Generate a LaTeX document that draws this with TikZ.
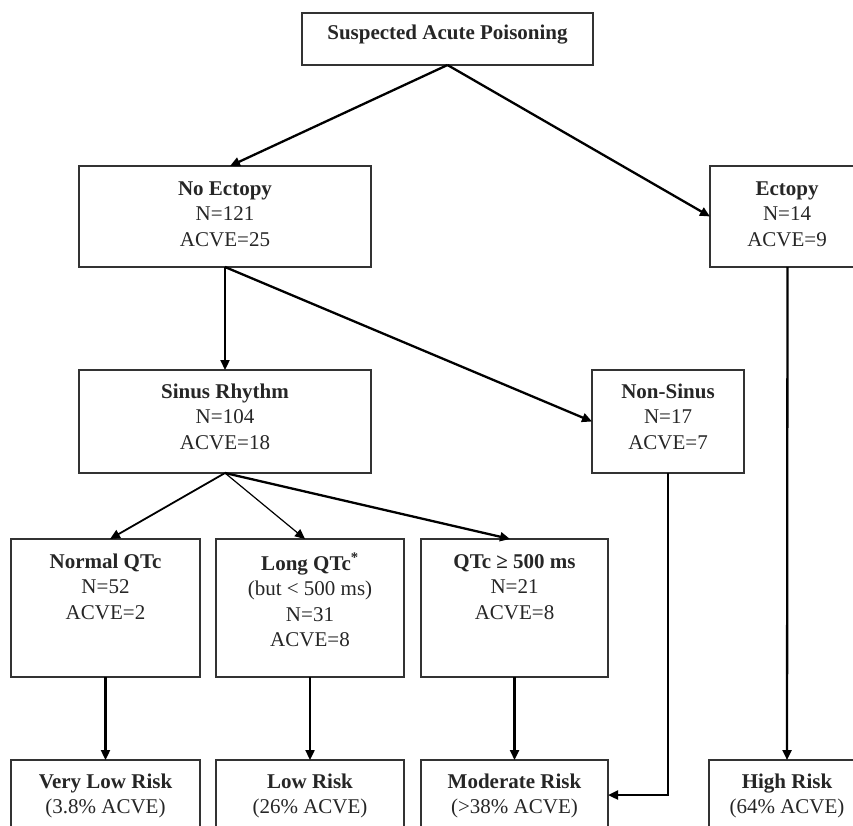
\documentclass[tikz,border=0pt]{standalone}
\usepackage{fontspec}
\setmainfont{Liberation Serif}
\usetikzlibrary{arrows.meta}
\tikzset{
  box/.style={draw=black!80, line width=1.4pt, fill=none, inner sep=0pt, outer sep=0pt},
  txt/.style={anchor=north, inner sep=0pt, align=center, text=black!85,
              font=\fontsize{21}{25.5}\selectfont},
  conn/.style={draw=black, line width=2.3pt, -{Triangle[length=10pt,width=9pt]}},
  thinconn/.style={draw=black, line width=1.2pt, -{Triangle[length=10pt,width=9pt]}}
}
\newcommand{\fl}{\rule{0pt}{15pt}}
\begin{document}
\begin{tikzpicture}[x=1pt,y=-1pt]
\useasboundingbox (0,0) rectangle (853,826);
\clip (0,0) rectangle (853,826);
% boxes
\node[box, minimum width=291pt, minimum height=52pt] (top) at (447.5,39) {};
\node[box, minimum width=292pt, minimum height=101pt] (noect) at (225,216.5) {};
\node[box, minimum width=155pt, minimum height=101pt] (ecto) at (787.5,216.5) {};
\node[box, minimum width=292pt, minimum height=103pt] (sinus) at (225,421.5) {};
\node[box, minimum width=152pt, minimum height=103pt] (nonsin) at (668,421.5) {};
\node[box, minimum width=189pt, minimum height=138pt] (normal) at (105.5,608) {};
\node[box, minimum width=188pt, minimum height=138pt] (long) at (310,608) {};
\node[box, minimum width=187pt, minimum height=138pt] (qlong) at (514.5,608) {};
\node[box, minimum width=189pt, minimum height=70pt] (vlow) at (105.5,795) {};
\node[box, minimum width=188pt, minimum height=70pt] (low) at (310,795) {};
\node[box, minimum width=187pt, minimum height=70pt] (mod) at (514.5,795) {};
\node[box, minimum width=156pt, minimum height=70pt] (high) at (787,795) {};
% texts
\node[txt] (t-top) at (447.5,24) {\fl\textbf{Suspected Acute Poisoning}};
\node[txt] (t-noect) at (225,180) {\fl\textbf{No Ectopy}\\N=121\\ACVE=25};
\node[txt] (t-ecto) at (787,180) {\fl\textbf{Ectopy}\\N=14\\ACVE=9};
\node[txt] (t-sinus) at (225,383) {\fl\textbf{Sinus Rhythm}\\N=104\\ACVE=18};
\node[txt] (t-nonsin) at (668,383) {\fl\textbf{Non-Sinus}\\N=17\\ACVE=7};
\node[txt] (t-normal) at (105.5,553) {\fl\textbf{Normal QTc}\\N=52\\ACVE=2};
\node[txt] (t-long) at (310,553) {\fl\textbf{Long QTc\textsuperscript{*}}\\(but < 500 ms)\\N=31\\ACVE=8};
\node[txt] (t-qlong) at (514.5,553) {\fl\textbf{QTc ≥ 500 ms}\\N=21\\ACVE=8};
\node[txt] (t-vlow) at (105.5,773) {\fl\textbf{Very Low Risk}\\(3.8\% ACVE)};
\node[txt] (t-low) at (310,773) {\fl\textbf{Low Risk}\\(26\% ACVE)};
\node[txt] (t-mod) at (514.5,773) {\fl\textbf{Moderate Risk}\\(>38\% ACVE)};
\node[txt] (t-high) at (787,773) {\fl\textbf{High Risk}\\(64\% ACVE)};
% connectors
\draw[conn] (top.south) -- ([xshift=5pt]noect.north);
\draw[conn] (top.south) -- (ecto.west);
\draw[conn] (noect.south) -- (sinus.north);
\draw[conn] (noect.south) -- (nonsin.west);
\draw[conn, line width=1.8pt] (sinus.south) -- ([xshift=4.5pt]normal.north);
\draw[thinconn] (sinus.south) -- ([xshift=-5pt]long.north);
\draw[conn] (sinus.south) -- ([xshift=-4.5pt]qlong.north);
\draw[conn] (normal.south) -- (vlow.north);
\draw[conn] (long.south) -- (low.north);
\draw[conn] (qlong.south) -- (mod.north);
\draw[conn] (nonsin.south) |- (mod.east);
\draw[conn] (ecto.south) -- (high.north);
\end{tikzpicture}
\end{document}
